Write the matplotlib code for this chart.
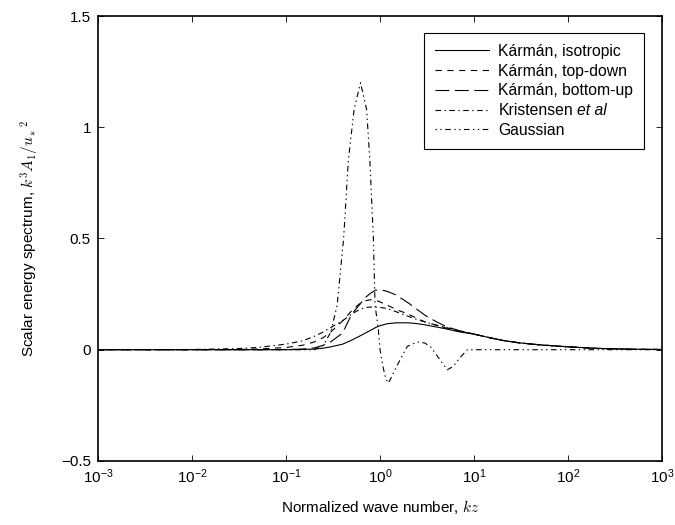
import matplotlib
matplotlib.use("Agg")
import matplotlib.pyplot as plt

plt.rcParams['font.family'] = ['Liberation Sans', 'DejaVu Sans']
plt.rcParams['mathtext.fontset'] = 'cm'
plt.rcParams['lines.scale_dashes'] = False

# wave numbers kz
kz = [0.001, 0.01, 0.03, 0.05, 0.1, 0.15, 0.2, 0.25, 0.3, 0.4, 0.5, 0.6, 0.7,
      0.8, 0.9, 1.0, 1.2, 1.5, 2, 2.5, 3, 4, 5, 7, 10, 15, 20, 30, 50, 100,
      200, 500, 1000]

karman_iso = [0, 0, 0, 0, 0, 0.001, 0.003, 0.007, 0.013, 0.025, 0.043, 0.06,
              0.075, 0.088, 0.1, 0.108, 0.117, 0.121, 0.121, 0.117, 0.112,
              0.102, 0.094, 0.08, 0.07, 0.053, 0.042, 0.031, 0.022, 0.013,
              0.006, 0.002, 0.001]

karman_top = [0, 0, 0.001, 0.003, 0.01, 0.02, 0.035, 0.055, 0.08, 0.13,
              0.175, 0.205, 0.22, 0.225, 0.222, 0.215, 0.2, 0.18, 0.16, 0.14,
              0.125, 0.11, 0.098, 0.084, 0.07, 0.053, 0.042, 0.031, 0.022,
              0.013, 0.006, 0.002, 0.001]

karman_bottom = [0, 0, 0, 0, 0.001, 0.003, 0.008, 0.02, 0.036, 0.075, 0.16,
                 0.2, 0.235, 0.255, 0.268, 0.27, 0.262, 0.245, 0.21, 0.18,
                 0.155, 0.125, 0.105, 0.085, 0.07, 0.053, 0.042, 0.031, 0.022,
                 0.013, 0.006, 0.002, 0.001]

kristensen = [0, 0.001, 0.005, 0.01, 0.025, 0.04, 0.06, 0.08, 0.1, 0.13,
              0.16, 0.18, 0.19, 0.192, 0.192, 0.19, 0.185, 0.17, 0.15, 0.135,
              0.125, 0.11, 0.1, 0.085, 0.07, 0.053, 0.042, 0.031, 0.021,
              0.012, 0.006, 0.002, 0.001]

kz_gauss = [0.001, 0.1, 0.2, 0.25, 0.3, 0.35, 0.41, 0.46, 0.53, 0.62, 0.72,
            0.78, 0.85, 0.885, 0.955, 1.0, 1.08, 1.15, 1.22, 1.3, 1.5, 1.95,
            2.5, 3.0, 3.5, 4.6, 5.2, 6.0, 7.1, 8.5, 10, 1000]
gaussian = [0, 0, 0.0, 0.02, 0.08, 0.2, 0.5, 0.85, 1.08, 1.2, 1.08, 0.85,
            0.5, 0.2, 0.1, 0.0, -0.08, -0.13, -0.15, -0.13, -0.075, 0.015,
            0.035, 0.03, 0.01, -0.06, -0.09, -0.075, -0.035, 0.0, 0, 0]

fig = plt.figure(figsize=(6.75, 5.25), dpi=100)
ax = fig.add_axes([0.145, 0.122, 0.836, 0.8475])

lw = 0.8
ax.plot(kz, karman_iso, color='black', lw=lw, label=u'Kármán, isotropic')
ax.plot(kz, karman_top, color='black', lw=lw, linestyle=(0, (4.5, 4)),
        label=u'Kármán, top-down')
ax.plot(kz, karman_bottom, color='black', lw=lw, linestyle=(0, (10, 4)),
        label=u'Kármán, bottom-up')
ax.plot(kz, kristensen, color='black', lw=lw, linestyle=(0, (4, 2.5, 1, 2.5)),
        label='Kristensen')
ax.plot(kz_gauss, gaussian, color='black', lw=lw,
        linestyle=(0, (1, 2.5, 1, 2.5, 4, 2.5)), label='Gaussian')

ax.set_xscale('log')
ax.set_xlim(1e-3, 1e3)
ax.set_ylim(-0.5, 1.5)
ax.set_xticks([1e-3, 1e-2, 1e-1, 1e0, 1e1, 1e2, 1e3])
ax.minorticks_off()
ax.set_yticks([-0.5, 0, 0.5, 1, 1.5])
ax.set_yticklabels([u'\u22120.5', '0', '0.5', '1', '1.5'])
ax.tick_params(direction='in', length=4, width=0.6, top=True, right=True,
               labelsize=11, pad=5)
for s in ax.spines.values():
    s.set_linewidth(1.2)

ax.set_xlabel(r'Normalized wave number, $kz$', fontsize=11, labelpad=8)
ax.set_ylabel(r'Scalar energy spectrum, $k^3A_1/{u_*}^2$', fontsize=11,
              labelpad=14)

leg = ax.legend(loc='upper right', fontsize=11.3, handlelength=3.4,
                fancybox=False, framealpha=1, edgecolor='black',
                bbox_to_anchor=(0.968, 0.962), borderaxespad=0,
                labelspacing=0.3, borderpad=0.7, handletextpad=0.6)
leg.get_frame().set_linewidth(0.8)

# "et al" in italics after "Kristensen"
fig.canvas.draw()
bb = leg.get_texts()[3].get_window_extent()
fig.text(bb.x1 / fig.bbox.width + 0.006, (bb.y0 + bb.y1) / 2 / fig.bbox.height,
         'et al', fontsize=11.3, fontstyle='italic', va='center', ha='left',
         zorder=10)

plt.savefig('out.png', dpi=100)
